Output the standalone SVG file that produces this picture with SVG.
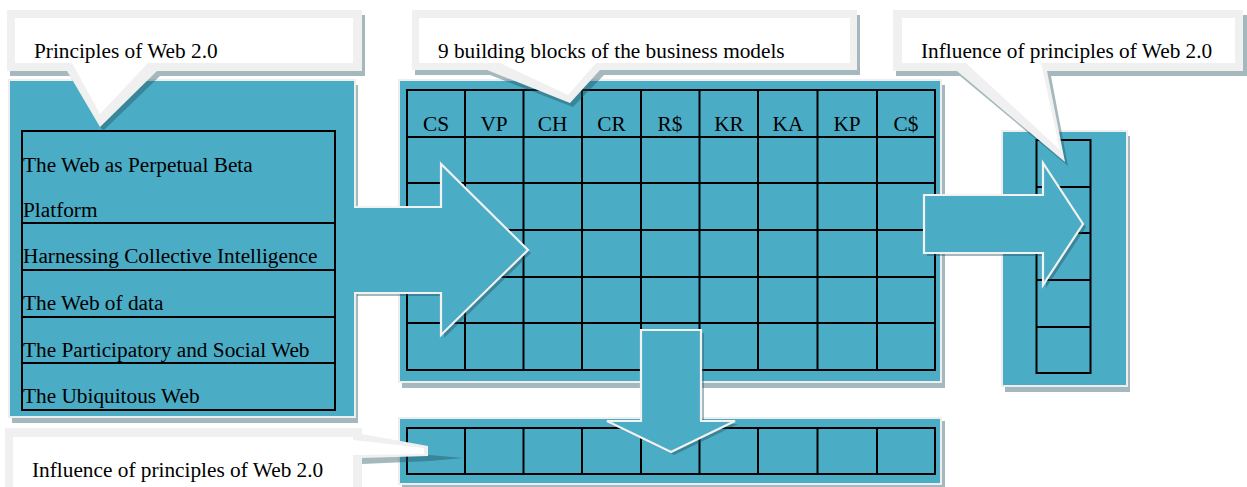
<svg xmlns="http://www.w3.org/2000/svg" width="1247" height="487" viewBox="0 0 1247 487">
  <style>
    text { font-family: "Liberation Serif", "Times New Roman", serif; font-size: 21.3px; fill: #000; }
    .hdr { text-anchor: middle; }
    .panel { fill: #4BACC6; stroke: #eeeeee; stroke-width: 2; }
    .shadow { fill: #1f4e5a; opacity: 0.4; }
    .grid { fill: none; stroke: #000; stroke-width: 2; }
    .co-edge { fill: #f0f0f0; }
    .co-body { fill: #ffffff; }
    .arrow { fill: #4BACC6; }
    .arrow-edge { fill: none; stroke: #f2f2f2; stroke-width: 2.2; stroke-linejoin: miter; }
  </style>

  <!-- Principles list panel -->
  <g id="principles">
    <rect class="shadow" x="12" y="85" width="346" height="338"/>
    <rect class="panel" x="9" y="80" width="346" height="337"/>
    <path class="grid" d="M22,131 H335 V410 H22 Z M22,223 H335 M22,270 H335 M22,317 H335 M22,363 H335"/>
    <text x="23" y="171.7">The Web as Perpetual Beta</text>
    <text x="23" y="216.7">Platform</text>
    <text x="23" y="263">Harnessing Collective Intelligence</text>
    <text x="23" y="310">The Web of data</text>
    <text x="23" y="356.5">The Participatory and Social Web</text>
    <text x="23" y="403.3">The Ubiquitous Web</text>
  </g>

  <!-- Business model canvas: 9 blocks -->
  <g id="building-blocks">
    <rect class="shadow" x="402" y="85" width="543" height="303"/>
    <rect class="panel" x="399" y="80" width="542" height="302"/>
    <path class="grid" d="M407,90 H935 V370 H407 Z
      M407,137 H935 M407,183 H935 M407,230 H935 M407,277 H935 M407,323 H935
      M465,90 V370 M523.5,90 V370 M582,90 V370 M641,90 V370 M699.5,90 V370 M758,90 V370 M817.5,90 V370 M877,90 V370"/>
    <text class="hdr" x="436" y="131">CS</text>
    <text class="hdr" x="494" y="131">VP</text>
    <text class="hdr" x="552.5" y="131">CH</text>
    <text class="hdr" x="611.5" y="131">CR</text>
    <text class="hdr" x="670" y="131">R$</text>
    <text class="hdr" x="729" y="131">KR</text>
    <text class="hdr" x="788" y="131">KA</text>
    <text class="hdr" x="847" y="131">KP</text>
    <text class="hdr" x="906" y="131">C$</text>
  </g>

  <!-- Influence row under the canvas -->
  <g id="influence-row">
    <rect class="shadow" x="402" y="421" width="543" height="70"/>
    <rect class="panel" x="399" y="418" width="542" height="66"/>
    <path class="grid" d="M407,428 H935 V474 H407 Z
      M465,428 V474 M523.5,428 V474 M582,428 V474 M641,428 V474 M699.5,428 V474 M758,428 V474 M817.5,428 V474 M877,428 V474"/>
  </g>

  <!-- Influence column at the right -->
  <g id="influence-column">
    <rect class="shadow" x="1005" y="136" width="125" height="256"/>
    <rect class="panel" x="1002" y="131" width="125" height="255"/>
    <path class="grid" d="M1036.5,140 H1090.5 V373 H1036.5 Z M1036.5,187 H1090.5 M1036.5,233 H1090.5 M1036.5,280 H1090.5 M1036.5,327 H1090.5"/>
  </g>

  <!-- Block arrows between the parts -->
  <g id="connectors">
    <g id="arrow-principles-to-blocks">
      <path class="shadow" d="M357,210 H444 V167 L531,253 L444,338 V296 H357 Z"/>
      <path class="arrow" d="M340,207 H441 V164 L528,250 L441,335 V293 H340 Z"/>
      <path class="arrow-edge" d="M354,207 H441 V164 L528,250 L441,335 V293 H354"/>
    </g>
    <g id="arrow-blocks-to-column">
      <path class="shadow" d="M927,198 H1046 V166 L1086,227 L1046,288 V256 H927 Z"/>
      <path class="arrow" d="M924,195 H1043 V163 L1083,224 L1043,285 V253 H924 Z"/>
      <path class="arrow-edge" d="M924,195 H1043 V163 L1083,224 L1043,285 V253 H924 Z"/>
    </g>
    <g id="arrow-blocks-to-row">
      <path class="shadow" d="M644,333 H704 V424 H738 L674,455 L610,424 H644 Z"/>
      <path class="arrow" d="M641,330 H701 V421 H735 L671,452 L607,421 H641 Z"/>
      <path class="arrow-edge" d="M641,330 H701 V421 H735 L671,452 L607,421 H641 Z"/>
    </g>
  </g>

  <!-- Callout labels -->
  <g id="callout-principles">
    <path class="shadow" d="M10,15 H365 V76 H160 L103,131 L70,76 H10 Z"/>
    <path class="co-edge" d="M7,10 H362 V71 H157 L100,127 L67,71 H7 Z"/>
    <path class="co-body" d="M15,18 H353 V63 H148 L100,114 L72,63 H15 Z"/>
    <text x="34" y="58">Principles of Web 2.0</text>
  </g>

  <g id="callout-blocks">
    <path class="shadow" d="M415,15 H860 V75 H604 L573,107 L490,75 H415 Z"/>
    <path class="co-edge" d="M412,10 H857 V70 H600 L570,103 L487,70 H412 Z"/>
    <path class="co-body" d="M419,18 H850 V63 H596 L568,95 L500,63 H419 Z"/>
    <text x="438" y="58">9 building blocks of the business models</text>
  </g>

  <g id="callout-influence-column">
    <path class="shadow" d="M896,15 H1247 V76 H1051 L1068,166 L960,76 H896 Z"/>
    <path class="co-edge" d="M893,10 H1243 V71 H1047 L1065,162 L957,71 H893 Z"/>
    <path class="co-body" d="M902,18 H1235 V63 H1041 L1060,150 L966,63 H902 Z"/>
    <text x="921" y="58">Influence of principles of Web 2.0</text>
  </g>

  <g id="callout-influence-row">
    <path class="shadow" d="M356,455 L430,455 L463,458 L430,461 L362,464 Z"/>
    <path class="co-edge" d="M5,428 H362 V434 L428,446 V456 L362,458 V487 H5 Z"/>
    <path class="co-body" d="M13,437 H353 V440 L424,448 V454 L353,455 V487 H13 Z"/>
    <text x="32" y="477">Influence of principles of Web 2.0</text>
  </g>
</svg>
